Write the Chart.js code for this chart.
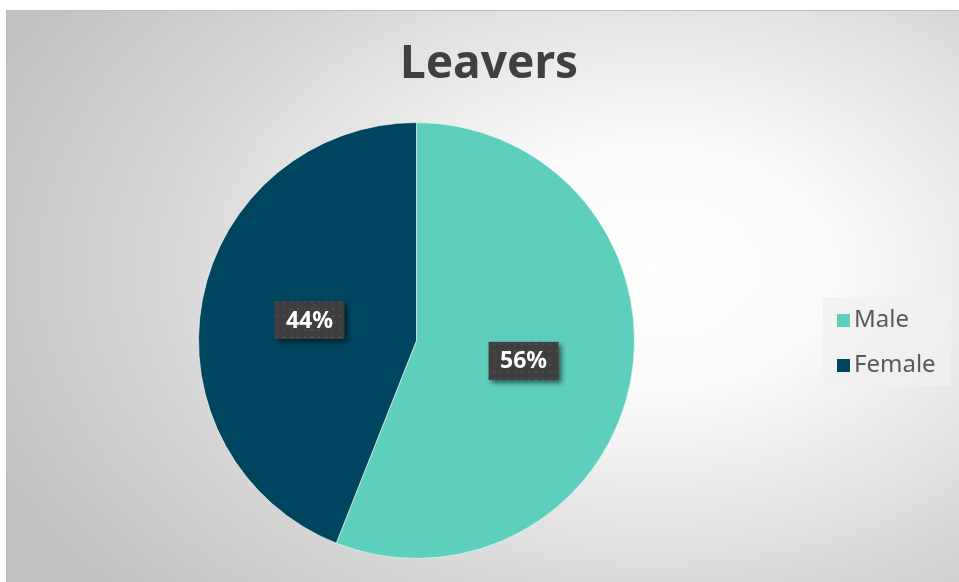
<!DOCTYPE html>
<html>
<head>
<meta charset="utf-8">
<script src="https://cdn.jsdelivr.net/npm/chart.js@4"></script>
<style>
  html, body { margin: 0; padding: 0; background: #fff; }
  #wrap {
    position: absolute; left: 6px; top: 10px; width: 953px; height: 572px;
    background: radial-gradient(ellipse 75% 85% at 68% 45%, #ffffff 0%, #fbfbfb 25%, #d6d6d6 70%, #c2c2c2 100%);
    border-top: 1px solid #bdbdbd; border-left: 1px solid #bdbdbd;
    box-sizing: border-box;
  }
  canvas { display: block; }
</style>
</head>
<body>
<div id="wrap"><canvas id="pie"></canvas></div>
<script>
const title = 'Leavers'
const names = ['Male', 'Female']
const share = [56, 44]
const colors = ['#5ECEBD', '#00455F']

const FONT = '"Noto Sans", "DejaVu Sans", sans-serif'

// dotted dark fill used behind the data labels
function dotPattern(ctx) {
    const c = document.createElement('canvas')
    c.width = 7; c.height = 7
    const p = c.getContext('2d')
    p.fillStyle = '#3f3f3f'
    p.fillRect(0, 0, 7, 7)
    p.fillStyle = '#4d4d4d'
    p.fillRect(3, 3, 2, 2)
    return ctx.createPattern(c, 'repeat')
}

const extras = {
    id: 'extras',
    afterDatasetsDraw(chart) {
        const ctx = chart.ctx
        const meta = chart.getDatasetMeta(0)
        const total = share.reduce((a, b) => a + b, 0)

        // data labels
        ctx.save()
        ctx.font = 'bold 23px ' + FONT
        ctx.textAlign = 'center'
        ctx.textBaseline = 'middle'
        meta.data.forEach((arc, i) => {
            const pos = arc.tooltipPosition()
            const txt = Math.round(share[i] / total * 100) + '%'
            const w = 70, h = 38
            ctx.save()
            ctx.shadowColor = 'rgba(0,0,0,0.55)'
            ctx.shadowBlur = 5
            ctx.shadowOffsetX = 3
            ctx.shadowOffsetY = 3
            ctx.fillStyle = dotPattern(ctx)
            ctx.fillRect(pos.x - w / 2, pos.y - h / 2, w, h)
            ctx.restore()
            ctx.fillStyle = '#ffffff'
            ctx.fillText(txt, pos.x, pos.y + 1)
        })
        ctx.restore()
    },
    afterDraw(chart) {
        const ctx = chart.ctx
        ctx.save()
        // title
        ctx.font = 'bold 46px ' + FONT
        ctx.fillStyle = '#404040'
        ctx.textAlign = 'center'
        ctx.textBaseline = 'middle'
        ctx.fillText(title, 482, 54)

        // legend
        ctx.fillStyle = 'rgba(240,240,240,0.75)'
        ctx.fillRect(816, 286, 128, 89)
        ctx.font = '24px ' + FONT
        ctx.textAlign = 'left'
        names.forEach((n, i) => {
            const y = 309 + i * 45
            ctx.fillStyle = colors[i]
            ctx.fillRect(830, y - 6, 13, 13)
            ctx.fillStyle = '#595959'
            ctx.fillText(n, 847, y)
        })
        ctx.restore()
    }
}

new Chart(document.getElementById('pie'), {
    type: 'pie',
    data: {
        labels: names,
        datasets: [{
            data: share,
            backgroundColor: colors,
            borderColor: 'rgba(255,255,255,0.6)',
            borderWidth: 1
        }]
    },
    options: {
        responsive: true,
        maintainAspectRatio: false,
        animation: false,
        layout: { padding: { left: 191, right: 324, top: 111, bottom: 23 } },
        plugins: {
            legend: { display: false },
            title: { display: false },
            tooltip: { enabled: false }
        }
    },
    plugins: [extras]
})
</script>
</body>
</html>
